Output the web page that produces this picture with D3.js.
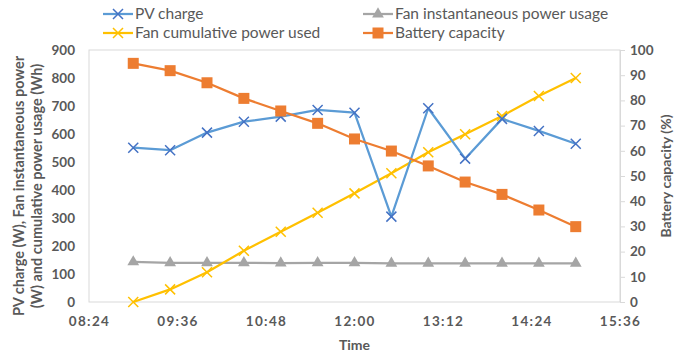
<!DOCTYPE html>
<html>
<head>
<meta charset="utf-8">
<script src="https://cdn.jsdelivr.net/npm/d3@7"></script>
<style>
  body { margin: 0; background: #fff; }
  svg text { font-family: Lato, "Open Sans", sans-serif; fill: #595959; }
</style>
</head>
<body>
<div id="chart"></div>
<script>
// readings, every 30 min from 09:00 to 15:00
var times = ["09:00", "09:30", "10:00", "10:30", "11:00", "11:30", "12:00",
             "12:30", "13:00", "13:30", "14:00", "14:30", "15:00"];
var pvCharge = [551, 542, 605, 644, 662, 686, 676, 305, 692, 512, 654, 611, 565];
var fanInstant = [143, 140, 140, 140, 139, 140, 140, 138, 138, 138, 138, 138, 138];
var fanCumulative = [0, 45, 106, 183, 251, 319, 388, 460, 535, 599, 664, 736, 800];
var battery = [94.7, 91.8, 87.0, 80.8, 75.8, 70.9, 64.7, 59.9, 54.0, 47.6, 42.7, 36.5, 29.9];
var xTicks = ["08:24", "09:36", "10:48", "12:00", "13:12", "14:24", "15:36"];
var leftTicks = [0, 100, 200, 300, 400, 500, 600, 700, 800, 900];
var rightTicks = [0, 10, 20, 30, 40, 50, 60, 70, 80, 90, 100];

function toMin(s) { var p = s.split(":"); return +p[0] * 60 + +p[1]; }
function fmt(m) { return d3.format("02")(Math.floor(m / 60)) + ":" + d3.format("02")(m % 60); }

var W = 689, H = 354;
var m = {left: 89, right: 69, top: 50, bottom: 52};
var iw = W - m.left - m.right, ih = H - m.top - m.bottom;

var svg = d3.select("#chart").append("svg").attr("width", W).attr("height", H);

var x = d3.scaleLinear().domain([toMin(xTicks[0]), toMin(xTicks[xTicks.length - 1])]).range([0, iw]);
var yL = d3.scaleLinear().domain([0, 900]).range([ih, 0]);
var yR = d3.scaleLinear().domain([0, 100]).range([ih, 0]);

var g = svg.append("g").attr("transform", "translate(" + m.left + "," + m.top + ")");

g.append("rect").attr("width", iw).attr("height", ih)
  .attr("fill", "none").attr("stroke", "#d9d9d9").attr("stroke-width", 1);

// axes
var ax = g.append("g").attr("transform", "translate(0," + ih + ")")
  .call(d3.axisBottom(x).tickValues(xTicks.map(toMin)).tickFormat(fmt).tickSize(0).tickPadding(14));
ax.select(".domain").remove();
ax.selectAll("text").style("font-size", "13.5px").style("font-weight", "bold").style("letter-spacing", "1.3px");

var al = g.append("g").call(d3.axisLeft(yL).tickValues(leftTicks).tickSize(0).tickPadding(14));
al.select(".domain").remove();
al.selectAll("text").style("font-size", "13.5px").style("font-weight", "bold");

var ar = g.append("g").attr("transform", "translate(" + iw + ",0)")
  .call(d3.axisRight(yR).tickValues(rightTicks).tickSize(5).tickPadding(5));
ar.select(".domain").attr("stroke", "#d9d9d9");
ar.selectAll("line").attr("stroke", "#d9d9d9");
ar.selectAll("text").style("font-size", "13.5px").style("font-weight", "bold");

// axis titles
svg.append("text").attr("transform", "translate(24," + (m.top + ih / 2 + 10) + ") rotate(-90)")
  .attr("text-anchor", "middle").style("font-size", "14.5px").style("font-weight", "bold")
  .text("PV charge (W), Fan instantaneous power");
svg.append("text").attr("transform", "translate(42," + (m.top + ih / 2 + 10) + ") rotate(-90)")
  .attr("text-anchor", "middle").style("font-size", "14.5px").style("font-weight", "bold")
  .text("(W) and cumulative power usage (Wh)");
svg.append("text").attr("transform", "translate(671," + (m.top + ih / 2) + ") rotate(-90)")
  .attr("text-anchor", "middle").style("font-size", "14px").style("font-weight", "bold")
  .text("Battery capacity (%)");
svg.append("text").attr("x", m.left + iw / 2).attr("y", 350)
  .attr("text-anchor", "middle").style("font-size", "14px").style("font-weight", "bold")
  .text("Time");

var series = [
  {name: "PV charge", vals: pvCharge, y: yL, line: "#5b9bd5", mark: "#4472c4", sym: "x"},
  {name: "Fan instantaneous power usage", vals: fanInstant, y: yL, line: "#a5a5a5", mark: "#a5a5a5", sym: "tri"},
  {name: "Fan cumulative power used", vals: fanCumulative, y: yL, line: "#ffc000", mark: "#ffc000", sym: "x"},
  {name: "Battery capacity", vals: battery, y: yR, line: "#ed7d31", mark: "#ed7d31", sym: "sq"}
];

function drawMarker(sel, s) {
  if (s.sym === "x") {
    sel.append("path").attr("d", "M-5,-5L5,5M-5,5L5,-5")
      .attr("stroke", s.mark).attr("stroke-width", 1.5).attr("fill", "none");
  } else if (s.sym === "tri") {
    sel.append("path").attr("d", d3.symbol(d3.symbolTriangle, 60)).attr("fill", s.mark);
  } else {
    sel.append("rect").attr("x", -5.5).attr("y", -5.5).attr("width", 11).attr("height", 11).attr("fill", s.mark);
  }
}

// draw in this order so orange sits on top
[1, 2, 0, 3].forEach(function (i) {
  var s = series[i];
  var pts = times.map(function (t, j) { return [x(toMin(t)), s.y(s.vals[j])]; });
  g.append("path").attr("d", d3.line()(pts)).attr("fill", "none")
    .attr("stroke", s.line).attr("stroke-width", 2.25).attr("stroke-linejoin", "round");
  pts.forEach(function (p) {
    var mk = g.append("g").attr("transform", "translate(" + p[0] + "," + p[1] + ")");
    drawMarker(mk, s);
  });
});

// legend
var legPos = [[103, 14], [363, 14], [103, 33], [363, 33]];
series.forEach(function (s, i) {
  var lg = svg.append("g").attr("transform", "translate(" + legPos[i][0] + "," + legPos[i][1] + ")");
  lg.append("line").attr("x1", 0).attr("x2", 30).attr("stroke", s.line).attr("stroke-width", 2.25);
  var mk = lg.append("g").attr("transform", "translate(15,0)");
  drawMarker(mk, s);
  lg.append("text").attr("x", 32).attr("dy", "0.35em").style("font-size", "15.5px").text(s.name);
});
</script>
</body>
</html>
